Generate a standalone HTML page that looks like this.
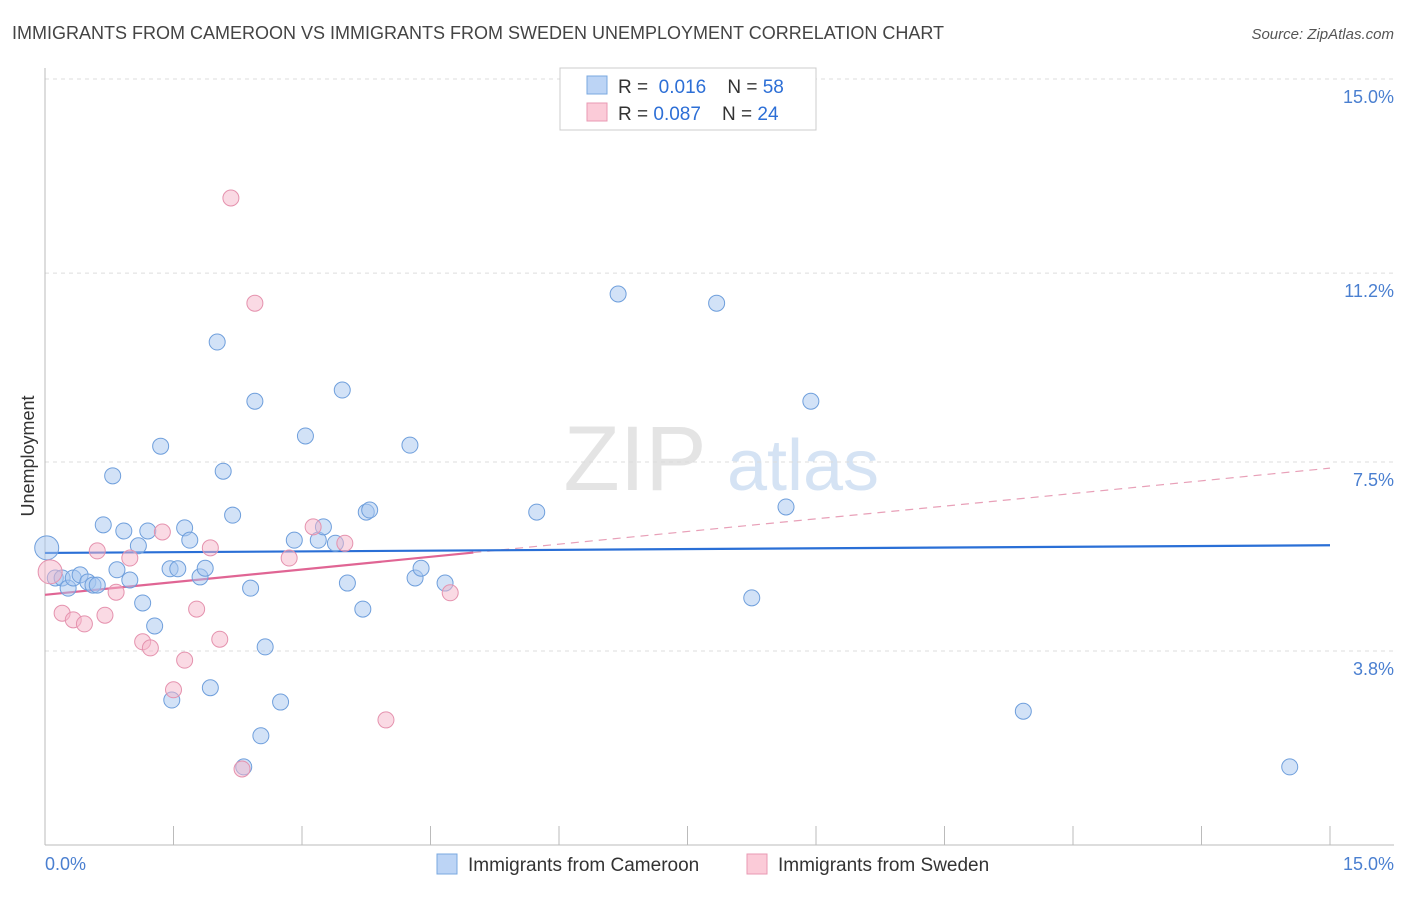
<!DOCTYPE html>
<html><head><meta charset="utf-8"><style>
body{margin:0;background:#fff;font-family:"Liberation Sans",sans-serif;}
svg text{font-family:"Liberation Sans",sans-serif;}
</style></head><body>
<svg id="chart" width="1406" height="892" viewBox="0 0 1406 892">
<text x="12" y="39" font-size="18" fill="#444">IMMIGRANTS FROM CAMEROON VS IMMIGRANTS FROM SWEDEN UNEMPLOYMENT CORRELATION CHART</text>
<text x="1394" y="39" font-size="15" fill="#555" text-anchor="end" font-style="italic">Source: ZipAtlas.com</text>
<g>
<text x="635" y="490" font-size="92" fill="#e4e4e4" text-anchor="middle" font-family="Liberation Serif, serif">ZIP</text>
<text x="803" y="490" font-size="72" fill="#d5e3f4" text-anchor="middle">atlas</text>
</g>
<g id="grid"></g><g id="axes"></g><g id="trends"></g><g id="points"></g>
<text transform="translate(34,456) rotate(-90)" font-size="18" fill="#333" text-anchor="middle">Unemployment</text>
<text x="45" y="870" font-size="18" fill="#4a7fd0">0.0%</text>
<text x="1394" y="870" font-size="18" fill="#4a7fd0" text-anchor="end">15.0%</text>
<g>
<rect x="560" y="68" width="256" height="62" fill="#fff" stroke="#ccc"/>
<rect x="587" y="76" width="20" height="18" fill="#bcd4f5" stroke="#7aa8e0"/>
<rect x="587" y="103" width="20" height="18" fill="#fbcbd8" stroke="#e89ab3"/>
<text x="618" y="93" font-size="19" fill="#333">R = <tspan fill="#2d6fd6">&#160;0.016</tspan>&#160;&#160;&#160;&#160;N = <tspan fill="#2d6fd6">58</tspan></text>
<text x="618" y="120" font-size="19" fill="#333">R = <tspan fill="#2d6fd6">0.087</tspan>&#160;&#160;&#160;&#160;N = <tspan fill="#2d6fd6">24</tspan></text>
</g>
<g>
<rect x="437" y="854" width="20" height="20" fill="#bcd4f5" stroke="#7aa8e0"/>
<text x="468" y="871" font-size="19" fill="#333">Immigrants from Cameroon</text>
<rect x="747" y="854" width="20" height="20" fill="#fbcbd8" stroke="#e89ab3"/>
<text x="778" y="871" font-size="19" fill="#333">Immigrants from Sweden</text>
</g>
</svg>
<script>
const yTicks=[15.0,11.2,7.5,3.8];
const yTickLabels=["15.0%","11.2%","7.5%","3.8%"];
const xTicks=[0,1.5,3,4.5,6,7.5,9,10.5,12,13.5,15];
const cameroonX=[0.02,0.12,0.20,0.27,0.33,0.41,0.50,0.56,0.61,0.68,0.79,0.84,0.92,0.99,1.09,1.14,1.20,1.28,1.35,1.46,1.48,1.55,1.63,1.69,1.81,1.87,1.93,2.01,2.08,2.19,2.40,2.45,2.52,2.57,2.32,2.75,2.91,3.04,3.19,3.25,3.39,3.47,3.53,3.71,3.75,3.79,4.26,4.32,4.39,4.67,5.74,6.69,7.84,8.25,8.65,8.94,11.42,14.53];
const cameroonY=[5.82,5.23,5.23,5.03,5.23,5.29,5.15,5.09,5.09,6.27,7.23,5.39,6.15,5.19,5.86,4.74,6.15,4.29,7.81,5.41,2.84,5.41,6.21,5.97,5.25,5.42,3.08,9.85,7.32,6.46,5.03,8.69,2.14,3.88,1.53,2.80,5.97,8.01,5.97,6.23,5.91,8.91,5.13,4.62,6.52,6.56,7.83,5.23,5.42,5.13,6.52,10.79,10.61,4.84,6.62,8.69,2.62,1.53];
const swedenX=[0.06,0.20,0.33,0.46,0.61,0.70,0.83,0.99,1.14,1.23,1.37,1.50,1.63,1.77,1.93,2.04,2.17,2.30,2.45,2.85,3.13,3.50,3.98,4.73];
const swedenY=[5.35,4.54,4.41,4.33,5.76,4.50,4.95,5.62,3.98,3.86,6.13,3.04,3.62,4.62,5.82,4.03,12.67,1.49,10.61,5.62,6.23,5.91,2.45,4.94];
const cameroonTrend=[5.72,5.87];
const swedenTrend=[4.90,7.38];
const swedenSolidEnd=5.0;
const NS="http://www.w3.org/2000/svg";
const X=v=>45+v*(1285/15);
const Y=v=>79+(15-v)*51.07;
function mk(tag,attrs,parent){const e=document.createElementNS(NS,tag);for(const k in attrs)e.setAttribute(k,attrs[k]);parent.appendChild(e);return e;}
const grid=document.getElementById('grid'),axes=document.getElementById('axes'),trends=document.getElementById('trends'),pts=document.getElementById('points');
yTicks.forEach((t,i)=>{
 const l=mk('line',{x1:45,x2:1394,y1:Y(t),y2:Y(t),stroke:'#ddd','stroke-dasharray':'4,4'},grid);
 
 
 const tx=mk('text',{x:1394,y:Y(t)+24,'font-size':18,fill:'#4a7fd0','text-anchor':'end'},grid);
 tx.textContent=yTickLabels[i];
 
 
});
const ya=mk('line',{x1:45,x2:45,y1:68,y2:845,stroke:'#bbb'},axes);


const xa=mk('line',{x1:45,x2:1394,y1:845,y2:845,stroke:'#bbb'},axes);


xTicks.forEach(t=>{
 const l=mk('line',{x1:X(t),x2:X(t),y1:826,y2:845,stroke:'#bbb'},axes);
 
 
});
const yAt=(tr,x)=>tr[0]+(tr[1]-tr[0])*x/15;
const pd=mk('line',{x1:X(swedenSolidEnd),y1:Y(yAt(swedenTrend,swedenSolidEnd)),x2:X(15),y2:Y(swedenTrend[1]),stroke:'#e8a0b8','stroke-width':1.2,'stroke-dasharray':'8,6'},trends);


function dots(xs,ys,fill,stroke,name){
 xs.forEach((x,i)=>{
  const r=(i===0)?12:8;
  const c=mk('circle',{cx:X(x),cy:Y(ys[i]),r:r,fill:fill,stroke:stroke,'stroke-width':1},pts);
  
  
 });
}
dots(cameroonX,cameroonY,'rgba(165,198,240,0.5)','#6f9fdc','cameroon-point');
dots(swedenX,swedenY,'rgba(246,182,202,0.5)','#e592ae','sweden-point');
const bt=mk('line',{x1:X(0),y1:Y(cameroonTrend[0]),x2:X(15),y2:Y(cameroonTrend[1]),stroke:'#2a6fd6','stroke-width':2.2},trends);


const ps=mk('line',{x1:X(0),y1:Y(swedenTrend[0]),x2:X(swedenSolidEnd),y2:Y(yAt(swedenTrend,swedenSolidEnd)),stroke:'#e06594','stroke-width':2.2},trends);


</script>
</body></html>
